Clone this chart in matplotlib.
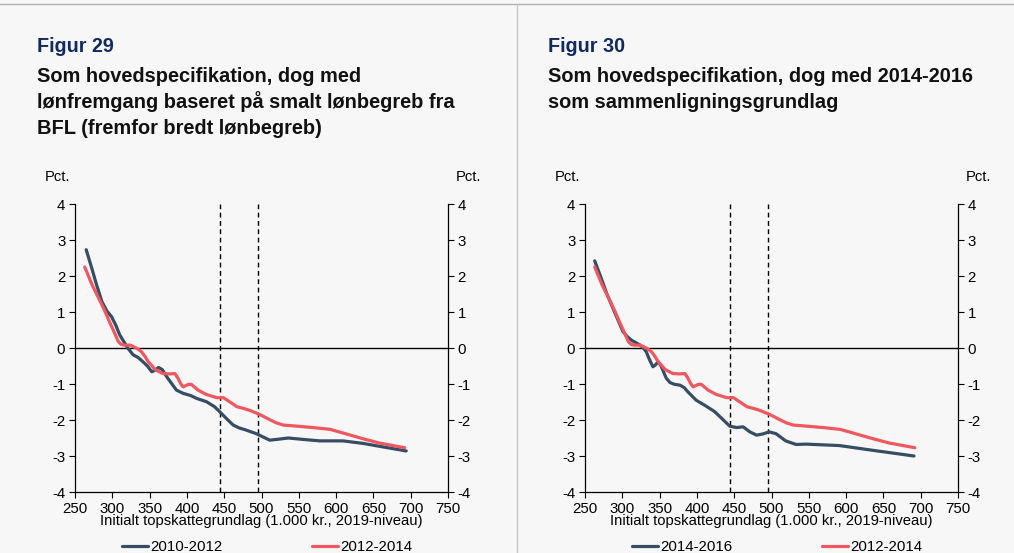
import numpy as np
import matplotlib.pyplot as plt
from matplotlib.lines import Line2D

plt.rcParams['font.family'] = ['Liberation Sans', 'DejaVu Sans']
plt.rcParams['axes.unicode_minus'] = False

# topskattegrundlag (1.000 kr.) and pct. for each period
x_1012 = [265, 272, 279, 286, 293, 299, 305, 310, 316, 321, 328, 335, 341, 347, 353, 357, 362,
          367, 373, 380, 386, 395, 405, 413, 426, 437, 444, 453, 462, 470, 478, 493, 502,
          511, 520, 536, 556, 578, 609, 636, 658, 694]
y_1012 = [2.73, 2.25, 1.75, 1.29, 1.02, 0.87, 0.62, 0.36, 0.16, -0.01, -0.19, -0.27, -0.38,
          -0.50, -0.66, -0.62, -0.54, -0.60, -0.80, -1.00, -1.17, -1.26, -1.32, -1.40, -1.49,
          -1.63, -1.77, -1.96, -2.14, -2.22, -2.27, -2.38, -2.47, -2.56, -2.54, -2.50, -2.54,
          -2.58, -2.58, -2.65, -2.73, -2.86]

x_1214 = [263, 273, 284, 291, 297, 303, 308, 312, 316, 324, 333, 339, 344, 348, 353, 357, 362,
          368, 377, 384, 388, 392, 395, 399, 402, 406, 415, 426, 440, 449, 457, 467, 476,
          484, 498, 511, 520, 529, 547, 569, 592, 609, 636, 658, 692]
y_1214 = [2.25, 1.75, 1.29, 0.98, 0.69, 0.42, 0.18, 0.10, 0.08, 0.08, -0.01, -0.10, -0.24,
          -0.38, -0.49, -0.59, -0.65, -0.71, -0.72, -0.71, -0.84, -1.00, -1.08, -1.04, -1.01,
          -1.01, -1.17, -1.29, -1.38, -1.38, -1.49, -1.63, -1.68, -1.73, -1.85, -1.99, -2.08,
          -2.14, -2.17, -2.21, -2.26, -2.36, -2.52, -2.64, -2.77]

x_1416 = [263, 271, 279, 290, 301, 307, 312, 318, 324, 328, 332, 336, 341, 344, 348, 352, 356,
          359, 364, 370, 377, 383, 388, 399, 412, 424, 435, 444, 453, 462, 471, 480, 488,
          497, 506, 519, 533, 546, 591, 635, 691]
y_1416 = [2.42, 1.98, 1.52, 0.98, 0.45, 0.31, 0.22, 0.15, 0.08, 0.00, -0.10, -0.30, -0.52,
          -0.48, -0.38, -0.50, -0.70, -0.84, -0.96, -1.01, -1.03, -1.10, -1.22, -1.45, -1.61,
          -1.77, -1.99, -2.17, -2.21, -2.19, -2.33, -2.42, -2.39, -2.33, -2.38, -2.58, -2.68,
          -2.67, -2.71, -2.84, -3.00]

xticks = np.arange(250, 751, 50)
yticks = np.arange(-4, 5, 1)
cutoffs = [445, 495]

dark = '#364d63'
red = '#f0575f'
navy = '#102a62'
bg = '#f7f7f7'

fig = plt.figure(figsize=(10.14, 5.53), dpi=100, facecolor=bg)

# frame lines
fig.add_artist(Line2D([0, 1], [1 - 4 / 553, 1 - 4 / 553], color='#b0b0b0', lw=1))
fig.add_artist(Line2D([517 / 1014, 517 / 1014], [0, 1 - 4 / 553], color='#c8c8c8', lw=1))


def panel(left, num, title, series, fig_x):
    ax = fig.add_axes([left / 1014, 61 / 553, 373 / 1014, 288 / 553], facecolor=bg)
    for xs, ys, col, lab in series:
        ax.plot(xs, ys, color=col, lw=2.3, solid_joinstyle='round', solid_capstyle='round', label=lab)
    ax.axhline(0, color='black', lw=1, zorder=1)
    for c in cutoffs:
        ax.axvline(c, color='black', lw=1, ls=(0, (3.5, 2.5)), zorder=1)
    ax.set_xlim(250, 750)
    ax.set_ylim(-4, 4)
    ax.set_xticks(xticks)
    ax.set_yticks(yticks)
    ax.tick_params(labelsize=10.8, length=4, width=0.8, direction='out', right=True, labelright=True, pad=3)
    for s in ['left', 'right', 'bottom']:
        ax.spines[s].set_linewidth(0.9)
    ax.spines['top'].set_visible(False)
    ax.set_xlabel('Initialt topskattegrundlag (1.000 kr., 2019-niveau)', fontsize=10.6, labelpad=-1)
    ax.text(-0.08, 1.07, 'Pct.', transform=ax.transAxes, fontsize=10.6, ha='left', va='bottom')
    ax.text(1.02, 1.07, 'Pct.', transform=ax.transAxes, fontsize=10.6, ha='left', va='bottom')

    fig.text(fig_x / 1014, 1 - 47 / 553, num, color=navy, fontsize=14.2, fontweight='bold', va='center')
    for i, line in enumerate(title):
        fig.text(fig_x / 1014, 1 - (76 + 26 * i) / 553, line, color='#111111', fontsize=14.4,
                 fontweight='bold', va='center')

    ax.legend(loc='upper center', bbox_to_anchor=(0.515, -0.145), ncol=2, frameon=False, fontsize=10.8,
              handlelength=1.7, handletextpad=0.15, columnspacing=6.0, borderaxespad=0)
    return ax


panel(75, 'Figur 29',
      ['Som hovedspecifikation, dog med',
       'lønfremgang baseret på smalt lønbegreb fra',
       'BFL (fremfor bredt lønbegreb)'],
      [(x_1012, y_1012, dark, '2010-2012'), (x_1214, y_1214, red, '2012-2014')], 37)
panel(585, 'Figur 30',
      ['Som hovedspecifikation, dog med 2014-2016',
       'som sammenligningsgrundlag'],
      [(x_1416, y_1416, dark, '2014-2016'), (x_1214, y_1214, red, '2012-2014')], 548)

fig.savefig('out.png', dpi=100, facecolor=bg)
